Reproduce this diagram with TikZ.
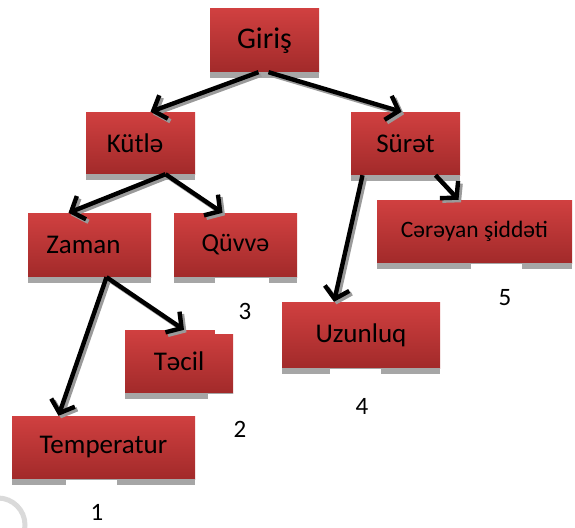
\documentclass[tikz,border=0pt]{standalone}
\usepackage{fontspec}
\setmainfont{Carlito}
\usetikzlibrary{arrows.meta}
\definecolor{boxtop}{HTML}{D04040}
\definecolor{boxbot}{HTML}{A22A2A}
\definecolor{stripgray}{HTML}{A6A6A6}
\definecolor{arrshadow}{HTML}{9A9A9A}
\definecolor{markgray}{HTML}{DADADA}
\tikzset{
  rbox/.style={rectangle, inner sep=0pt, top color=boxtop, bottom color=boxbot, draw=none,
               font=\fontsize{27}{32}\selectfont},
  numlabel/.style={font=\fontsize{25}{29}\selectfont, inner sep=0pt},
  arr/.style={line width=4.4pt, -{Straight Barb[length=11pt,width=25pt]}},
  arrsh/.style={arr, draw=arrshadow},
  cover/.style={fill=white},
}
\newcommand\myconn[2]{%
  \draw[arrsh, transform canvas={shift={(2.5pt,-2.5pt)}}] #1 -- #2;
  \draw[arr] #1 -- #2;}
\begin{document}
\begin{tikzpicture}[x=1pt,y=-1pt]
\useasboundingbox (0,0) rectangle (575,527);
% faint watermark arc
\draw[line width=5pt, color=markgray] (-2,525) circle[radius=27];

% boxes
\node[rbox, minimum width=109pt, minimum height=63pt, font=\fontsize{30}{34}\selectfont] (giris) at (264.5,40.5) {Giriş};
\node[rbox, minimum width=109pt, minimum height=62pt] (kutle) at (140.5,143) {\hspace*{-11pt}Kütlə};
\node[rbox, minimum width=109pt, minimum height=63pt] (surat) at (405.5,143.5) {Sürət};
\node[rbox, minimum width=123pt, minimum height=64pt] (zaman) at (89.5,245) {\hspace*{-12pt}Zaman};
\node[rbox, minimum width=123pt, minimum height=64pt, font=\fontsize{26}{30}\selectfont] (quvve) at (235.5,245) {Qüvvə};
\node[rbox, minimum width=195pt, minimum height=63pt, font=\fontsize{23.5}{28}\selectfont] (cereyan) at (474.5,231.5) {Cərəyan şiddəti};
\node[rbox, minimum width=158pt, minimum height=66pt] (uzunluq) at (361,335) {Uzunluq};
\node[rbox, minimum width=108pt, minimum height=63pt] (tecil) at (179,361.5) {Təcil};
\node[rbox, minimum width=183pt, minimum height=63pt] (temperatur) at (103.5,447.5) {Temperatur};

% grey strips under boxes
\foreach \b in {giris,kutle,surat,zaman,quvve,cereyan,uzunluq,tecil,temperatur}{
  \fill[stripgray] (\b.south west) rectangle ([yshift=-5.5pt]\b.south east);
}

% white backgrounds of the number text boxes
\fill[cover] (66,480) rectangle (117,527);
\fill[cover] (208,393.5) rectangle (262,445);
\fill[cover] (215,277.5) rectangle (269,334);
\fill[cover] (330,368.5) rectangle (381,420);
\fill[cover] (471,263.5) rectangle (522,315);

% numbers
\node[numlabel] (n1) at (97,512.5) {1};
\node[numlabel] (n2) at (240,429) {2};
\node[numlabel] (n3) at (245,311) {3};
\node[numlabel] (n4) at (362,406) {4};
\node[numlabel] (n5) at (505,298) {5};

% connectors
\myconn{([xshift=-6pt]giris.south)}{([xshift=10pt]kutle.north)}
\myconn{([xshift=4pt]giris.south)}{([xshift=-4pt]surat.north)}
\myconn{([xshift=25pt]kutle.south)}{([xshift=-21pt]zaman.north)}
\myconn{([xshift=25pt]kutle.south)}{([xshift=-13pt]quvve.north)}
\myconn{([xshift=-43pt]surat.south)}{([xshift=-27pt]uzunluq.north)}
\myconn{([xshift=30pt]surat.south)}{([xshift=-16pt]cereyan.north)}
\myconn{([xshift=17pt]zaman.south)}{([xshift=-45pt]temperatur.north)}
\myconn{([xshift=17pt]zaman.south)}{([xshift=5pt]tecil.north)}
\end{tikzpicture}
\end{document}
